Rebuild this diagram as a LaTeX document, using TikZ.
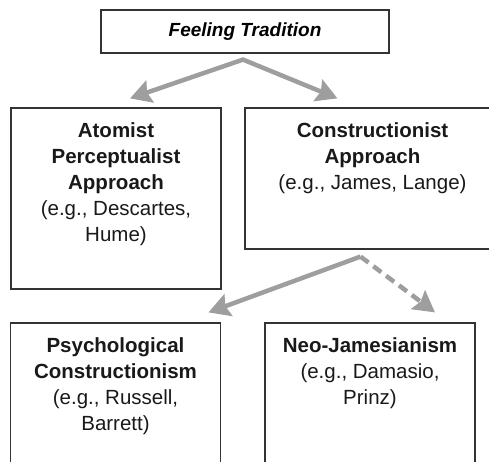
\documentclass[tikz,border=0pt]{standalone}
\usepackage{fontspec}
\setmainfont{Liberation Sans}
\usetikzlibrary{positioning,arrows.meta}
\definecolor{arrowgray}{gray}{0.62}
\definecolor{boxline}{gray}{0.2}

\begin{document}
\begin{tikzpicture}[x=1pt, y=-1pt,
  font=\fontsize{20.5}{26}\selectfont,
  box/.style={draw=boxline, line width=1.2pt, minimum width=210pt},
  txt/.style={align=center, inner sep=0pt, text=black!90},
  link/.style={draw=arrowgray, line width=4.5pt},
  tip/.style={-{Stealth[length=21pt,width=23pt,inset=3pt]}}]
  \useasboundingbox (0,0) rectangle (489,462);
  % Boxes
  \node[box, minimum width=288pt, minimum height=43pt, font=\fontsize{19}{26}\selectfont] (feel) at (245,31.5) {\textbf{\textit{Feeling Tradition}}};
  \node[box, minimum height=181pt] (atom) at (116,198.5) {};
  \node[box, minimum width=255pt, minimum height=141pt] (constr) at (372.5,178.5) {};
  \node[box, minimum height=152pt] (psych) at (115.5,399) {};
  \node[box, minimum height=152pt] (neo) at (370,399) {};
  % Texts
  \node[txt, below=15pt of atom.north] (atomtext)
    {\textbf{Atomist}\\\textbf{Perceptualist}\\\textbf{Approach}\\(e.g., Descartes,\\Hume)};
  \node[txt, below=15pt of constr.north] (constrtext)
    {\textbf{Constructionist}\\\textbf{Approach}\\(e.g., James, Lange)};
  \node[txt, below=15pt of psych.north] (psychtext)
    {\textbf{Psychological}\\\textbf{Constructionism}\\(e.g., Russell,\\Barrett)};
  \node[txt, below=15pt of neo.north] (neotext)
    {\textbf{Neo-Jamesianism}\\(e.g., Damasio,\\Prinz)};
  % Arrows
  \coordinate (split1) at ([xshift=-2pt, yshift=-6pt]feel.south);
  \coordinate (split2) at ([xshift=-12pt, yshift=-7pt]constr.south);
  \draw[link, {Stealth[length=21pt,width=23pt,inset=3pt]}-{Stealth[length=21pt,width=23pt,inset=3pt]}]
    ([xshift=14pt, yshift=9pt]atom.north) -- (split1) -- ([xshift=-35pt, yshift=9pt]constr.north);
  \draw[link, tip] (split2) -- ([xshift=93pt, yshift=10pt]psych.north);
  \draw[link, tip, dash pattern=on 10pt off 6pt] (split2) -- ([xshift=65pt, yshift=10pt]neo.north);
\end{tikzpicture}
\end{document}
